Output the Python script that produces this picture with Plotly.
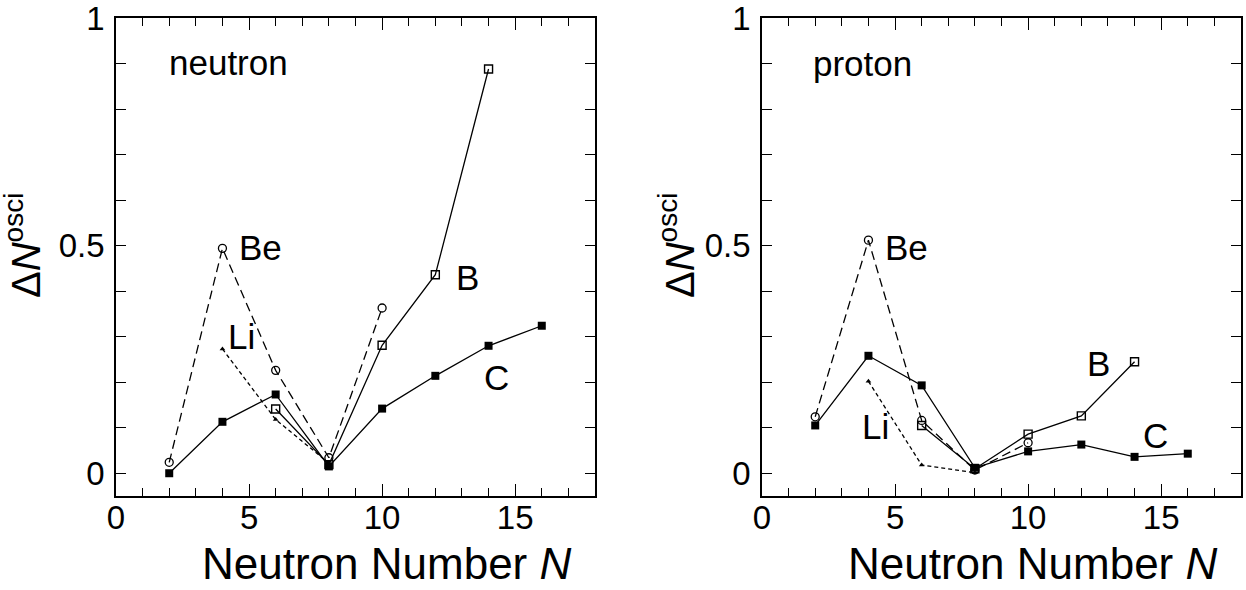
import plotly.graph_objects as go

# ---------------- data ----------------
N_C = [2, 4, 6, 8, 10, 12, 14, 16]
N_B = [6, 8, 10, 12, 14]
N_Be = [2, 4, 6, 8, 10]
N_Li = [4, 6, 8]

neutron_C = [0.000, 0.113, 0.173, 0.015, 0.142, 0.214, 0.280, 0.324]
neutron_B = [0.141, 0.019, 0.281, 0.436, 0.888]
neutron_Be = [0.024, 0.494, 0.226, 0.034, 0.363]
neutron_Li = [0.273, 0.118, 0.022]

proton_C = [0.105, 0.258, 0.193, 0.012, 0.048, 0.063, 0.036, 0.043]
proton_B = [0.105, 0.010, 0.086, 0.126, 0.245]
proton_Be = [0.124, 0.512, 0.116, 0.007, 0.067]
proton_Li = [0.202, 0.018, 0.001]

y_tickvals = [0, 0.5, 1]
y_ticktext = ["0", "0.5", "1"]
x_tickvals = [0, 5, 10, 15]

FONT = "Liberation Sans, Arial, Helvetica, sans-serif"

fig = go.Figure()

def add_panel(xa, ya, C, B, Be, Li):
    common = dict(xaxis=xa, yaxis=ya, mode="lines+markers", showlegend=False,
                  hoverinfo="skip")
    fig.add_trace(go.Scatter(x=N_Be, y=Be, line=dict(color="black", width=1.3, dash="9px,5px"),
                             marker=dict(symbol="circle-open", size=8, color="black",
                                         line=dict(width=1.3)), **common))
    fig.add_trace(go.Scatter(x=N_Li, y=Li, line=dict(color="black", width=1.3, dash="4px,3px"),
                             marker=dict(symbol="triangle-up", size=5, color="black"), **common))
    fig.add_trace(go.Scatter(x=N_B, y=B, line=dict(color="black", width=1.3),
                             marker=dict(symbol="square-open", size=8, color="black",
                                         line=dict(width=1.4)), **common))
    fig.add_trace(go.Scatter(x=N_C, y=C, line=dict(color="black", width=1.3),
                             marker=dict(symbol="square", size=8, color="black"), **common))

add_panel("x", "y", neutron_C, neutron_B, neutron_Be, neutron_Li)
add_panel("x2", "y2", proton_C, proton_B, proton_Be, proton_Li)

W, H = 1246, 590
dom_y = [(H - 496) / H, (H - 18) / H]

xaxis_style = dict(range=[0, 18], tickvals=x_tickvals, ticks="inside", ticklen=12,
                   tickwidth=1.3, tickcolor="black", showline=True, linecolor="black",
                   linewidth=1.6, mirror="ticks", showgrid=False, zeroline=False,
                   tickfont=dict(family=FONT, size=33, color="black"),
                   minor=dict(dtick=1, ticks="inside", ticklen=8, tickwidth=1.3,
                              tickcolor="black", showgrid=False),
                   ticklabelstandoff=-8, automargin=False, ticklabeloverflow="allow",
                   fixedrange=True)
yaxis_style = dict(range=[-0.05, 1], tickvals=y_tickvals, ticktext=y_ticktext,
                   ticks="inside", ticklen=10, tickwidth=1.3, tickcolor="black",
                   showline=True, linecolor="black", linewidth=1.6, mirror="ticks",
                   showgrid=False, zeroline=False,
                   tickfont=dict(family=FONT, size=33, color="black"),
                   minor=dict(dtick=0.1, tick0=0, ticks="inside", ticklen=10, tickwidth=1.3,
                              tickcolor="black", showgrid=False),
                   ticklabelstandoff=3, automargin=False, ticklabeloverflow="allow",
                   fixedrange=True)

fig.update_layout(
    width=W, height=H,
    margin=dict(l=0, r=0, t=0, b=0, autoexpand=False),
    paper_bgcolor="white", plot_bgcolor="white",
    xaxis=dict(domain=[116 / W, 595 / W], anchor="y", **xaxis_style),
    yaxis=dict(domain=dom_y, anchor="x", **yaxis_style),
    xaxis2=dict(domain=[762 / W, 1241 / W], anchor="y2", **xaxis_style),
    yaxis2=dict(domain=dom_y, anchor="x2", **yaxis_style),
    font=dict(family=FONT, color="black"),
)

# in-plot labels
labels_left = [("neutron", 1.9, 0.903), ("Be", 4.55, 0.495), ("B", 12.7, 0.43),
               ("Li", 4.15, 0.30), ("C", 13.75, 0.211)]
labels_right = [("proton", 1.85, 0.90), ("Be", 4.55, 0.495), ("B", 12.15, 0.242),
                ("Li", 3.7, 0.103), ("C", 14.25, 0.084)]
for txt, x, y in labels_left:
    fig.add_annotation(text=txt, x=x, y=y, xref="x", yref="y", showarrow=False,
                       xanchor="left", yanchor="middle",
                       font=dict(family=FONT, size=35, color="black"))
for txt, x, y in labels_right:
    fig.add_annotation(text=txt, x=x, y=y, xref="x2", yref="y2", showarrow=False,
                       xanchor="left", yanchor="middle",
                       font=dict(family=FONT, size=35, color="black"))

# axis titles
for cx in (386 / W, 1032 / W):
    fig.add_annotation(text="Neutron Number <i>N</i>", x=cx, y=(H - 563) / H,
                       xref="paper", yref="paper", showarrow=False,
                       xanchor="center", yanchor="middle",
                       font=dict(family=FONT, size=44, color="black"))
for cx in (23 / W, 677 / W):
    fig.add_annotation(text="Δ<i>N</i><sup>osci</sup>", x=cx, y=(H - 246) / H,
                       xref="paper", yref="paper", showarrow=False, textangle=-90,
                       xanchor="center", yanchor="middle",
                       font=dict(family=FONT, size=40, color="black"))

fig.write_html("out.html")
